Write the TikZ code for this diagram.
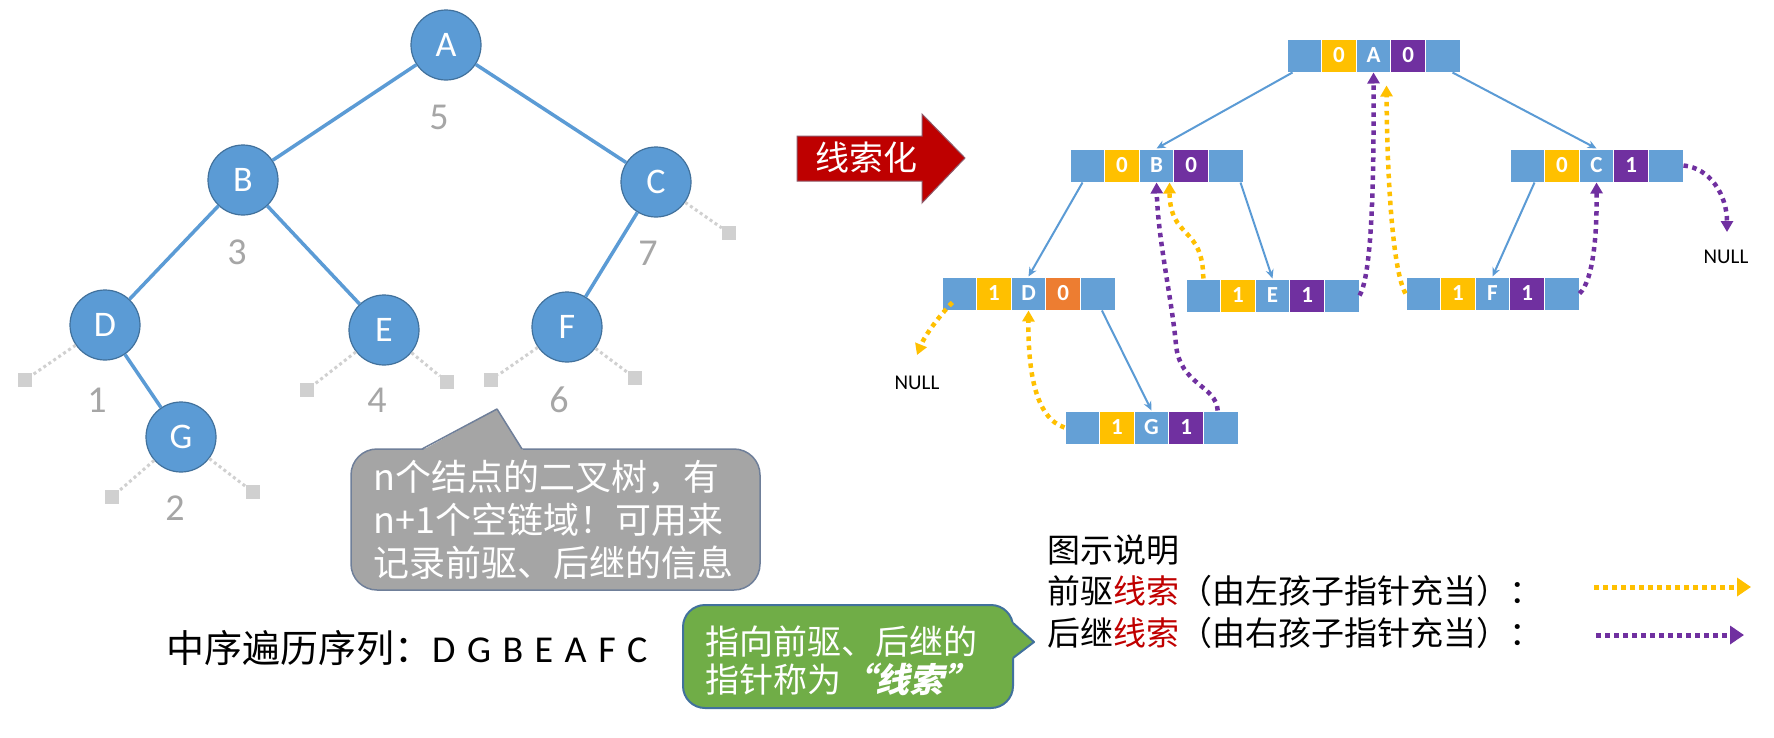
\documentclass[tikz,border=0pt]{standalone}
\usepackage{fontspec}
\setmainfont{Carlito}
\newfontfamily\cjk{Noto Sans CJK SC}
\newfontfamily\cjkbi{Noto Sans CJK SC}[FakeSlant=0.25]
\usetikzlibrary{arrows.meta}
\definecolor{nodeblue}{HTML}{5B9BD5}
\definecolor{nodeborder}{HTML}{41719C}
\definecolor{cellblue}{HTML}{64A0D6}
\definecolor{tagyellow}{HTML}{FFC000}
\definecolor{tagpurple}{HTML}{7030A0}
\definecolor{tagorange}{HTML}{ED7D31}
\definecolor{numgray}{HTML}{A6A6A6}
\definecolor{stubgray}{HTML}{D0D0D0}
\definecolor{calloutgray}{HTML}{A5A5A5}
\definecolor{calloutedge}{HTML}{6F7F99}
\definecolor{calloutgreen}{HTML}{70AD47}
\definecolor{greenedge}{HTML}{41719C}
\definecolor{arrowred}{HTML}{BE0000}
\definecolor{arrowedge}{HTML}{8E5A6A}
\definecolor{legendred}{HTML}{C00000}
\newcommand\recrow[7]{%
  \node[cell,fill=cellblue] (#1-1) at ({#2+17.3},{#3+16.5}) {};
  \node[cell,fill=tagyellow] (#1-2) at ({#2+51.9},{#3+16.5}) {#4};
  \node[cell,fill=cellblue] (#1-3) at ({#2+86.5},{#3+16.5}) {#5};
  \node[cell,fill=#7] (#1-4) at ({#2+121.1},{#3+16.5}) {#6};
  \node[cell,fill=cellblue] (#1-5) at ({#2+155.7},{#3+16.5}) {};
}
\newcommand\sq{\hspace{11.5pt}}
\begin{document}
\begin{tikzpicture}[x=1pt,y=-1pt,
  treenode/.style={circle, fill=nodeblue, draw=nodeborder, line width=1.2pt, minimum size=70pt, inner sep=0pt, text=white, font=\fontsize{36}{36}\selectfont},
  treeedge/.style={draw=nodeblue, line width=3.5pt},
  numlabel/.style={text=numgray, font=\fontsize{38}{38}\selectfont, inner sep=0pt},
  nullsq/.style={fill=stubgray, minimum size=14pt, inner sep=0pt},
  stub/.style={draw=stubgray, line width=3pt, dash pattern=on 3pt off 3pt},
  cell/.style={minimum width=34.6pt, minimum height=33pt, inner sep=0pt, draw=white, line width=1pt, text=white, font=\bfseries\fontsize{23}{23}\selectfont},
  link/.style={draw=nodeblue, line width=2pt, -{Stealth[length=9pt,width=8pt]}},
  predthread/.style={draw=tagyellow, line width=4.5pt, dash pattern=on 4.5pt off 4.5pt, -{Triangle[length=11pt,width=12pt]}},
  succthread/.style={draw=tagpurple, line width=4.5pt, dash pattern=on 4.5pt off 4.5pt, -{Triangle[length=11pt,width=12pt]}},
  legendpred/.style={draw=tagyellow, line width=5pt, dash pattern=on 5pt off 4pt, -{Triangle[length=14pt,width=18pt]}},
  legendsucc/.style={draw=tagpurple, line width=5pt, dash pattern=on 5pt off 4pt, -{Triangle[length=14pt,width=18pt]}},
  nulltext/.style={font=\fontsize{21}{21}\selectfont, inner sep=0pt},
  legendtext/.style={anchor=west, inner sep=0pt, font={\cjk\fontsize{33}{33}\selectfont}}
]
\useasboundingbox (0,0) rectangle (1774,737);
\fill[white] (0,0) rectangle (1774,737);

% ---- left tree ----
\node[treenode] (tA) at (446,45) {A};
\node[treenode] (tB) at (243,180) {B};
\node[treenode] (tC) at (656,182) {C};
\node[treenode] (tD) at (105,325) {D};
\node[treenode] (tE) at (384,330) {E};
\node[treenode] (tF) at (567,327) {F};
\node[treenode] (tG) at (181,437) {G};
\draw[treeedge] (tA) -- (tB);
\draw[treeedge] (tA) -- (tC);
\draw[treeedge] (tB) -- (tD);
\draw[treeedge] (tB) -- (tE);
\draw[treeedge] (tC) -- (tF);
\draw[treeedge] (tD) -- (tG);

\node[nullsq] (sqD) at (25,380) {};
\node[nullsq] (sqEl) at (307,390) {};
\node[nullsq] (sqEr) at (447,382) {};
\node[nullsq] (sqFl) at (491,380) {};
\node[nullsq] (sqFr) at (635,378) {};
\node[nullsq] (sqC) at (729,233) {};
\node[nullsq] (sqGl) at (112,497) {};
\node[nullsq] (sqGr) at (253,492) {};
\draw[stub] (tD) -- (sqD);
\draw[stub] (tE) -- (sqEl);
\draw[stub] (tE) -- (sqEr);
\draw[stub] (tF) -- (sqFl);
\draw[stub] (tF) -- (sqFr);
\draw[stub] (tC) -- (sqC);
\draw[stub] (tG) -- (sqGl);
\draw[stub] (tG) -- (sqGr);

\node[numlabel] (n5) at (439,117) {5};
\node[numlabel] (n3) at (237,252) {3};
\node[numlabel] (n7) at (648,253) {7};
\node[numlabel] (n1) at (97,400) {1};
\node[numlabel] (n4) at (377,400) {4};
\node[numlabel] (n6) at (559,400) {6};
\node[numlabel] (n2) at (175,508) {2};

% ---- gray callout ----
\draw[fill=calloutgray, draw=calloutedge, line width=1.5pt, rounded corners=26pt] (351,449) rectangle (760,590);
\fill[calloutgray] (420,451.5) -- (497,409) -- (524,451.5) -- cycle;
\draw[calloutedge, line width=1.5pt, line join=round] (422,449) -- (497,409) -- (522,449);
\node[anchor=west, align=left, text=white, inner sep=0pt, font={\cjk\fontsize{36}{43}\selectfont}] (graytext) at (373,520) {n个结点的二叉树，有\\n+1个空链域！可用来\\记录前驱、后继的信息};

% ---- inorder text ----
\node[anchor=west, inner sep=0pt, font=\fontsize{38}{38}\selectfont] (inorder) at (166,648) {{\cjk 中序遍历序列：}D\sq G\sq B\sq E\sq A\sq F\sq C};

% ---- green callout ----
\draw[fill=calloutgreen, draw=greenedge, line width=2pt, rounded corners=22pt] (683,605) rectangle (1013,708);
\fill[calloutgreen] (1010,621) -- (1034,642) -- (1010,660) -- cycle;
\draw[greenedge, line width=2pt, line join=round] (1013,623) -- (1034,642) -- (1013,658);
\node[anchor=west, align=left, text=white, inner sep=0pt, font={\cjk\fontsize{34}{37.5}\selectfont}] (greentext) at (705,661) {指向前驱、后继的\\指针称为{\cjkbi\bfseries “线索”}};

% ---- red arrow ----
\draw[fill=arrowred, draw=arrowedge, line width=1pt] (797,136) -- (922,136) -- (922,114) -- (965,158) -- (922,203) -- (922,181) -- (797,181) -- cycle;
\node[text=white, inner sep=0pt, font={\cjk\fontsize{34}{34}\selectfont}] (thr) at (866,158) {线索化};

% ---- threaded records ----
\recrow{rA}{1287}{39}{0}{A}{0}{tagpurple}
\recrow{rB}{1070}{149}{0}{B}{0}{tagpurple}
\recrow{rC}{1510}{149}{0}{C}{1}{tagpurple}
\recrow{rD}{942}{277}{1}{D}{0}{tagorange}
\recrow{rE}{1186}{279}{1}{E}{1}{tagpurple}
\recrow{rF}{1406}{277}{1}{F}{1}{tagpurple}
\recrow{rG}{1065}{411}{1}{G}{1}{tagpurple}

\draw[link] ([xshift=6pt]rA-1.south west) -- (rB-3.north);
\draw[link] ([xshift=-8pt]rA-5.south east) -- (rC-3.north);
\draw[link] ([xshift=13pt]rB-1.south west) -- (rD-3.north);
\draw[link] ([xshift=-3pt]rB-5.south east) -- (rE-3.north);
\draw[link] ([xshift=25pt]rC-1.south west) -- (rF-3.north);
\draw[link] ([xshift=22pt]rD-5.south west) -- (rG-3.north);

\coordinate (nullD) at (917,355);
\draw[predthread] ([shift={(-7pt,-9pt)}]rD-1.center) .. controls (940,315) and (925,335) .. (nullD);
\node[nulltext] (nullDtext) at (917,383) {NULL};
\draw[predthread] (rG-1.west) .. controls (1035,418) and (1028,370) .. (rD-3.south);
\draw[succthread] ([xshift=-3pt]rG-5.north) .. controls (1216,385) and (1180,385) .. (1176,345) .. controls (1172,300) and (1158,240) .. (rB-3.south);
\draw[predthread] (rE-1.north) .. controls (1203,225) and (1170,240) .. ([xshift=13pt]rB-3.south);
\draw[succthread] (rE-5.east) .. controls (1372,275) and (1374,180) .. (rA-3.south);
\draw[predthread] (rF-1.west) .. controls (1392,270) and (1387,170) .. ([xshift=13pt,yshift=-13pt]rA-3.south);
\draw[succthread] (rF-5.east) .. controls (1594,280) and (1597,230) .. (rC-3.south);
\coordinate (nullC) at (1727,232);
\draw[succthread] (rC-5.east) .. controls (1710,168) and (1727,195) .. (nullC);
\node[nulltext] (nullCtext) at (1726,257) {NULL};

% ---- legend ----
\node[legendtext] (lg0) at (1047,550) {图示说明};
\node[legendtext] (lg1) at (1047,591) {前驱{\color{legendred}线索}（由左孩子指针充当）：};
\node[legendtext] (lg2) at (1047,633) {后继{\color{legendred}线索}（由右孩子指针充当）：};
\coordinate (lgy1) at (1594,587);
\coordinate (lgy2) at (1751,587);
\coordinate (lgp1) at (1596,635);
\coordinate (lgp2) at (1744,635);
\draw[legendpred] (lgy1) -- (lgy2);
\draw[legendsucc] (lgp1) -- (lgp2);
\end{tikzpicture}
\end{document}
